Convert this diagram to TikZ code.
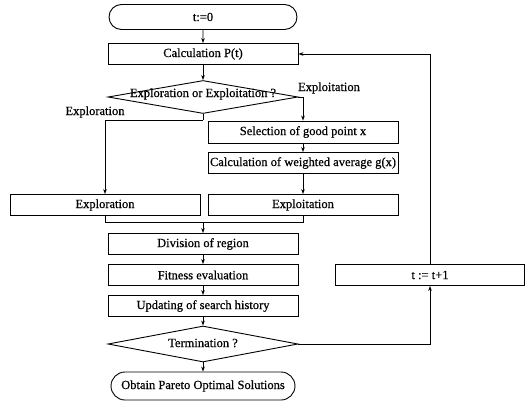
\documentclass[tikz,border=0pt]{standalone}
\usepackage{fontspec}
\setmainfont{Liberation Serif}
\newfontfamily\heavyserif{Liberation Serif}[FakeBold=0.6]
\usetikzlibrary{shapes.geometric,shapes.misc,arrows.meta}
\begin{document}
\begin{tikzpicture}[x=1pt,y=-1pt,
  every node/.style={font=\heavyserif\fontsize{12.5}{14}\selectfont},
  box/.style={draw,line width=0.9pt,rectangle,minimum width=190pt,minimum height=21pt,inner sep=1pt},
  term/.style={draw,line width=0.9pt,rounded rectangle,minimum width=190pt,minimum height=25pt,inner sep=1pt},
  dia/.style={draw,line width=0.9pt,diamond,inner sep=0pt},
  conn/.style={line width=0.7pt},
  arr/.style={line width=0.7pt,-{Stealth[length=5pt,width=3.6pt]}},
  lbl/.style={inner sep=0pt}]
\useasboundingbox (0,0) rectangle (528,415);
\node[term] (start) at (203,17) {t:=0};
\node[box] (calc) at (203,54) {Calculation P(t)};
\node[dia,minimum width=190pt,minimum height=33pt] (dec1) at (203,97) {};
\node[lbl] (dec1t) at (203,94) {Exploration or Exploitation ?};
\node[box,minimum height=22pt] (sel) at (303,132) {Selection of good point x};
\node[box] (wavg) at (303,163) {Calculation of weighted average g(x)};
\node[box] (exploit) at (303,205) {Exploitation};
\node[box] (explore) at (105,205) {Exploration};
\node[box] (div) at (203,244) {Division of region};
\node[box] (fit) at (203,275) {Fitness evaluation};
\node[box] (upd) at (203,306) {Updating of search history};
\node[dia,minimum width=190pt,minimum height=36pt] (term) at (203,344) {};
\node[lbl] (termt) at (203,343) {Termination ?};
\node[term,minimum width=186pt,minimum height=28pt] (pareto) at (203,386) {Obtain Pareto Optimal Solutions};
\node[box,minimum width=189pt] (tinc) at (430,275) {t := t+1};
\node[lbl] (lexploit) at (329,88) {Exploitation};
\node[lbl] (lexplore) at (95,112) {Exploration};
\coordinate (merge) at (203,222);
\coordinate (split) at (203,120);
\draw[arr] (start) -- (calc);
\draw[arr] (calc) -- (dec1.north);
\draw[arr] (dec1.east) -| (sel.north);
\draw[conn] (dec1.south) -- (split);
\draw[arr] (split) -| (explore.north);
\draw[arr] (sel) -- (wavg);
\draw[arr] (wavg) -- (exploit);
\draw[conn] (explore.south) |- (merge);
\draw[conn] (exploit.south) |- (merge);
\draw[arr] (merge) -- (div.north);
\draw[arr] (div) -- (fit);
\draw[arr] (fit) -- (upd);
\draw[arr] (upd) -- (term.north);
\draw[arr] (term.south) -- (pareto.north);
\draw[arr] (term.east) -| (tinc.south);
\draw[arr] (tinc.north) |- (calc.east);
\end{tikzpicture}
\end{document}
